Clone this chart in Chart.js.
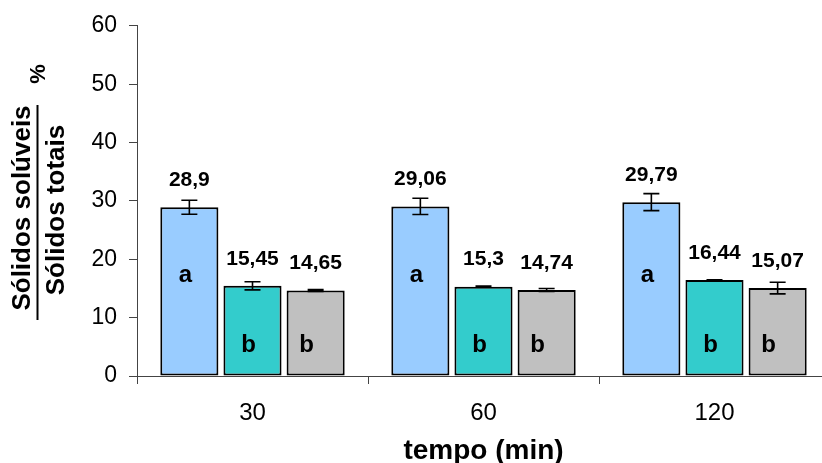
<!DOCTYPE html>
<html>
<head>
<meta charset="utf-8">
<script src="https://cdn.jsdelivr.net/npm/chart.js@4"></script>
<style>
html, body { margin: 0; padding: 0; background: #fff; overflow: hidden; }
#wrap { width: 832px; height: 463px; }
</style>
</head>
<body>
<div id="wrap"><canvas id="chart" width="832" height="463"></canvas></div>
<script>
"use strict";

var categories = [ "30", "60", "120" ];
var valuesA = [ 28.9, 29.06, 29.79 ];
var valuesB = [ 15.45, 15.3, 16.44 ];
var valuesC = [ 14.65, 14.74, 15.07 ];
var errorsA = [ 1.2, 1.4, 1.45 ];
var errorsB = [ 0.7, 0.1, 0.05 ];
var errorsC = [ 0.15, 0.25, 1.0 ];
var lettersA = [ "a", "a", "a" ];
var lettersB = [ "b", "b", "b" ];
var lettersC = [ "b", "b", "b" ];
var letterLevels = { a: 17.3, b: 5.3 };
var yTicks = [ 0, 10, 20, 30, 40, 50, 60 ];

var FONT = "Arial, 'Liberation Sans', sans-serif";

function fmt(v) {
    return String(v).replace(".", ",");
}

// error bars, value labels and significance letters
var annotate = {
    id: "annotate",
    afterDatasetsDraw: function(chart) {
        var ctx = chart.ctx, y = chart.scales.y;
        ctx.save();
        chart.data.datasets.forEach(function(ds, i) {
            var meta = chart.getDatasetMeta(i);
            meta.data.forEach(function(bar, j) {
                var v = ds.data[j], e = ds.errors[j];
                var top = y.getPixelForValue(v + e), bot = y.getPixelForValue(v - e);
                ctx.strokeStyle = "#000";
                ctx.lineWidth = 1.6;
                ctx.beginPath();
                ctx.moveTo(bar.x, top); ctx.lineTo(bar.x, bot);
                ctx.moveTo(bar.x - 8, top); ctx.lineTo(bar.x + 8, top);
                ctx.moveTo(bar.x - 8, bot); ctx.lineTo(bar.x + 8, bot);
                ctx.stroke();

                ctx.fillStyle = "#000";
                ctx.textAlign = "center";
                ctx.textBaseline = "middle";
                ctx.font = "bold 21px " + FONT;
                ctx.fillText(fmt(v), bar.x, bar.y - 27);

                var l = ds.letters[j];
                ctx.font = "bold 24px " + FONT;
                ctx.fillText(l, bar.x + ds.letterShift, y.getPixelForValue(letterLevels[l]));
            });
        });
        ctx.restore();
    },
    afterDraw: function(chart) {
        var ctx = chart.ctx, a = chart.chartArea;
        ctx.save();
        ctx.fillStyle = "#000";
        ctx.textAlign = "center";
        ctx.textBaseline = "middle";
        // x title
        ctx.font = "bold 28px " + FONT;
        ctx.fillText("tempo (min)", (a.left + a.right) / 2, 451);
        // y title as a fraction
        ctx.save();
        ctx.translate(23, 208);
        ctx.rotate(-Math.PI / 2);
        ctx.font = "bold 26px " + FONT;
        ctx.fillText("Sólidos solúveis", 0, 0);
        ctx.restore();
        ctx.save();
        ctx.translate(57, 210);
        ctx.rotate(-Math.PI / 2);
        ctx.font = "bold 26px " + FONT;
        ctx.fillText("Sólidos totais", 0, 0);
        ctx.restore();
        ctx.strokeStyle = "#000";
        ctx.lineWidth = 2;
        ctx.beginPath();
        ctx.moveTo(37.5, 105); ctx.lineTo(37.5, 320);
        ctx.stroke();
        ctx.save();
        ctx.translate(39, 74);
        ctx.rotate(-Math.PI / 2);
        ctx.font = "bold 22px " + FONT;
        ctx.fillText("%", 0, 0);
        ctx.restore();
        ctx.restore();
    }
};

new Chart(document.getElementById("chart"), {
    type: "bar",
    data: {
        labels: categories,
        datasets: [ {
            data: valuesA, errors: errorsA, letters: lettersA, letterShift: -4,
            backgroundColor: "#99ccff"
        }, {
            data: valuesB, errors: errorsB, letters: lettersB, letterShift: -4,
            backgroundColor: "#33cccc"
        }, {
            data: valuesC, errors: errorsC, letters: lettersC, letterShift: -9,
            backgroundColor: "#c0c0c0"
        } ]
    },
    options: {
        responsive: false,
        animation: false,
        layout: { padding: { top: 25, right: 2, left: 0, bottom: 0 } },
        datasets: {
            bar: {
                borderColor: "#000", borderWidth: 2, borderSkipped: false,
                categoryPercentage: 0.82, barPercentage: 0.92
            }
        },
        plugins: { legend: { display: false }, tooltip: { enabled: false } },
        scales: {
            x: {
                grid: { drawOnChartArea: false, tickLength: 8, color: "#444", offset: true },
                border: { color: "#444" },
                ticks: { color: "#000", font: { family: FONT, size: 24 }, padding: 15 },
                afterFit: function(s) { s.height = 87; }
            },
            y: {
                min: 0, max: 60,
                afterBuildTicks: function(s) { s.ticks = yTicks.map(function(v) { return { value: v }; }); },
                grid: { drawOnChartArea: false, tickLength: 8, color: "#444" },
                border: { color: "#444" },
                ticks: { color: "#000", font: { family: FONT, size: 23 }, padding: 12 },
                afterFit: function(s) { s.width = 137; }
            }
        }
    },
    plugins: [ annotate ]
});
</script>
</body>
</html>
